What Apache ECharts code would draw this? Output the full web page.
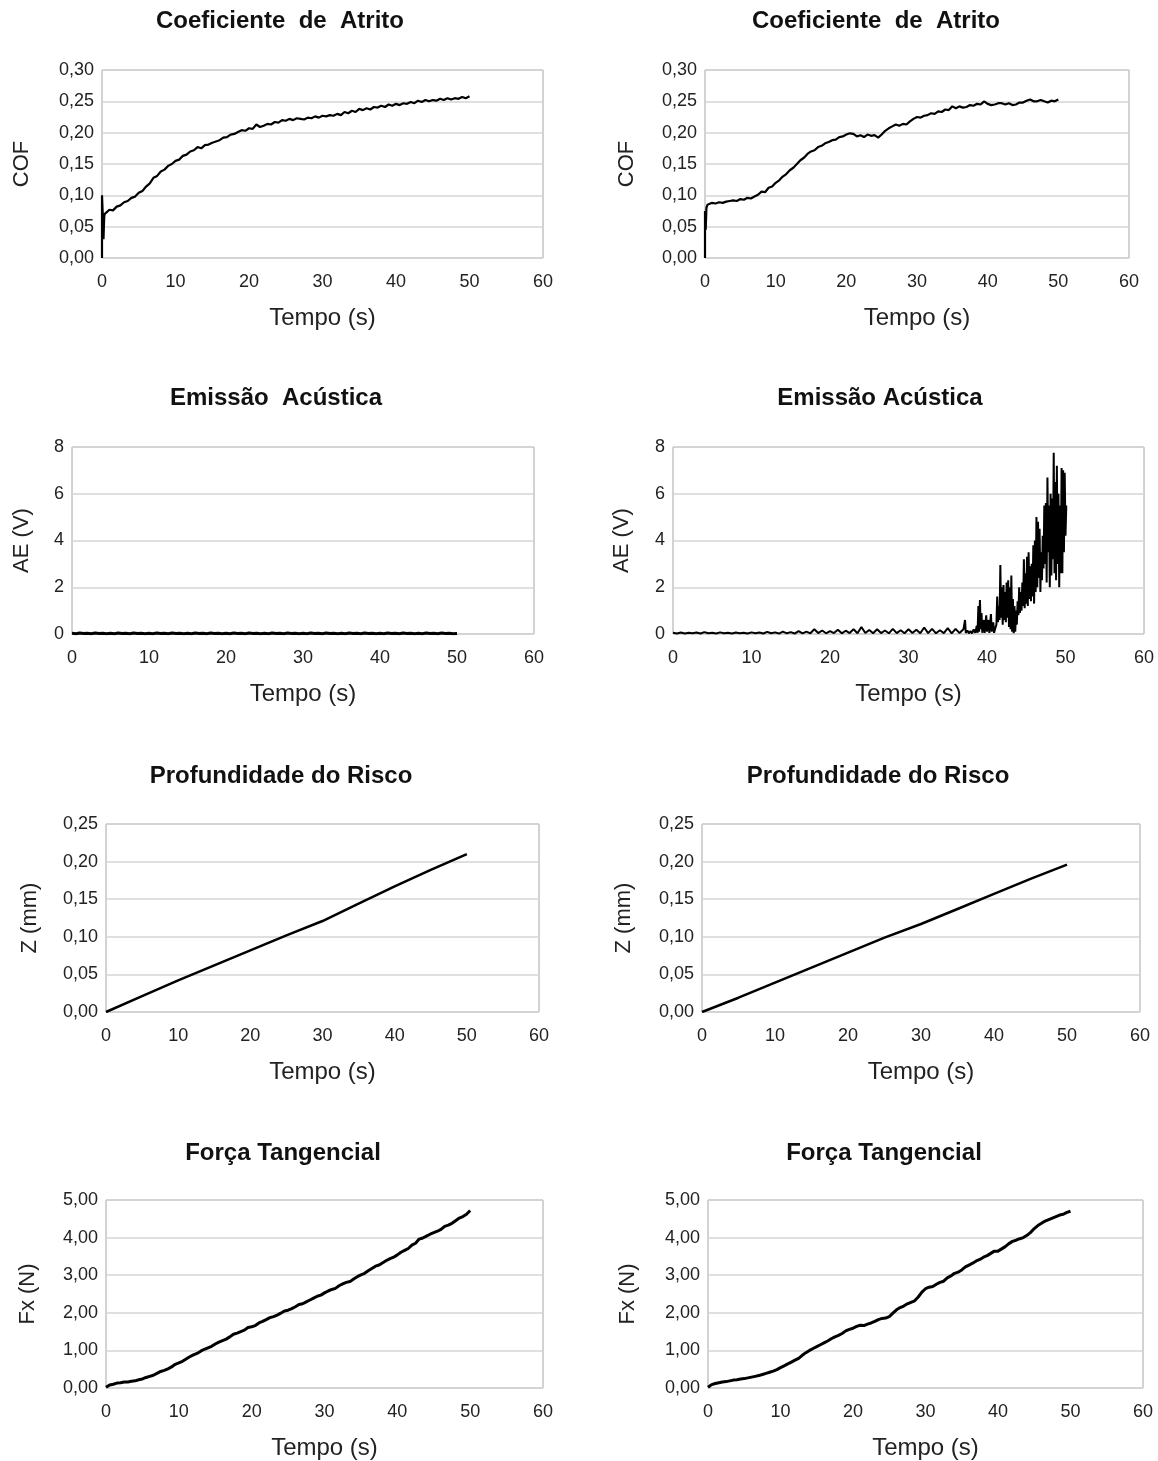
<!DOCTYPE html>
<html>
<head>
<meta charset="utf-8">
<script src="https://cdn.jsdelivr.net/npm/echarts@6/dist/echarts.min.js"></script>
<style>
  html, body { margin: 0; padding: 0; background: #fff; }
  #main { width: 1158px; height: 1461px; }
</style>
</head>
<body>
<div id="main"></div>
<script>
// tempo (s), passo de 0,5 s
var tempo = [
  0, 0.5, 1, 1.5, 2, 2.5, 3, 3.5, 4, 4.5,
  5, 5.5, 6, 6.5, 7, 7.5, 8, 8.5, 9, 9.5,
  10, 10.5, 11, 11.5, 12, 12.5, 13, 13.5, 14, 14.5,
  15, 15.5, 16, 16.5, 17, 17.5, 18, 18.5, 19, 19.5,
  20, 20.5, 21, 21.5, 22, 22.5, 23, 23.5, 24, 24.5,
  25, 25.5, 26, 26.5, 27, 27.5, 28, 28.5, 29, 29.5,
  30, 30.5, 31, 31.5, 32, 32.5, 33, 33.5, 34, 34.5,
  35, 35.5, 36, 36.5, 37, 37.5, 38, 38.5, 39, 39.5,
  40, 40.5, 41, 41.5, 42, 42.5, 43, 43.5, 44, 44.5,
  45, 45.5, 46, 46.5, 47, 47.5, 48, 48.5, 49, 49.5,
  50
];

// inicio do ensaio (pico inicial do COF)
var tempoInicio = [0, 0, 0.1, 0.2, 0.3, 0.35];
var cof1Inicio = [0, 0.10, 0.07, 0.03, 0.065, 0.07];
var cof2Inicio = [0, 0.075, 0.045, 0.08, 0.083, 0.085];

// COF de 0,5 a 50 s
var cof1 = [
  0.072, 0.077, 0.076, 0.082, 0.084, 0.089, 0.091, 0.096, 0.098, 0.104,
  0.107, 0.114, 0.119, 0.128, 0.131, 0.138, 0.141, 0.147, 0.150, 0.155,
  0.157, 0.163, 0.165, 0.170, 0.172, 0.177, 0.175, 0.180, 0.181, 0.184,
  0.186, 0.188, 0.192, 0.193, 0.197, 0.198, 0.201, 0.204, 0.203, 0.207,
  0.206, 0.213, 0.209, 0.211, 0.214, 0.213, 0.217, 0.216, 0.220, 0.219,
  0.222, 0.220, 0.223, 0.222, 0.221, 0.224, 0.223, 0.226, 0.224, 0.227,
  0.226, 0.228, 0.227, 0.230, 0.228, 0.233, 0.231, 0.235, 0.233, 0.238,
  0.236, 0.239, 0.237, 0.241, 0.240, 0.243, 0.241, 0.245, 0.243, 0.246,
  0.244, 0.247, 0.246, 0.249, 0.247, 0.251, 0.249, 0.252, 0.250, 0.252,
  0.251, 0.254, 0.252, 0.255, 0.253, 0.255, 0.254, 0.257, 0.255, 0.258
];
var cof2 = [
  0.087, 0.088, 0.087, 0.089, 0.088, 0.090, 0.091, 0.092, 0.091, 0.094,
  0.093, 0.096, 0.095, 0.098, 0.101, 0.106, 0.105, 0.112, 0.114, 0.120,
  0.124, 0.130, 0.134, 0.140, 0.144, 0.150, 0.156, 0.160, 0.166, 0.170,
  0.172, 0.177, 0.179, 0.183, 0.185, 0.188, 0.189, 0.193, 0.194, 0.197,
  0.199, 0.198, 0.194, 0.196, 0.193, 0.197, 0.195, 0.196, 0.192, 0.197,
  0.203, 0.207, 0.210, 0.213, 0.211, 0.214, 0.213, 0.218, 0.222, 0.225,
  0.224, 0.227, 0.228, 0.231, 0.230, 0.234, 0.233, 0.237, 0.236, 0.242,
  0.239, 0.242, 0.240, 0.241, 0.244, 0.243, 0.246, 0.245, 0.250, 0.246,
  0.244, 0.245, 0.247, 0.247, 0.245, 0.247, 0.244, 0.245, 0.248, 0.248,
  0.251, 0.253, 0.250, 0.250, 0.252, 0.250, 0.248, 0.251, 0.250, 0.253
];

// emissao acustica (V)
var ae1 = [
  0.03, 0.01, 0.04, 0.02, 0.03, 0.01, 0.04, 0.02, 0.03, 0.01,
  0.03, 0.01, 0.04, 0.02, 0.03, 0.01, 0.04, 0.02, 0.03, 0.01,
  0.03, 0.01, 0.04, 0.02, 0.03, 0.01, 0.04, 0.02, 0.03, 0.01,
  0.03, 0.01, 0.04, 0.02, 0.03, 0.01, 0.04, 0.02, 0.03, 0.01,
  0.03, 0.01, 0.04, 0.02, 0.03, 0.01, 0.04, 0.02, 0.03, 0.01,
  0.03, 0.01, 0.04, 0.02, 0.03, 0.01, 0.04, 0.02, 0.03, 0.01,
  0.03, 0.01, 0.04, 0.02, 0.03, 0.01, 0.04, 0.02, 0.03, 0.01,
  0.03, 0.01, 0.04, 0.02, 0.03, 0.01, 0.04, 0.02, 0.03, 0.01,
  0.03, 0.01, 0.04, 0.02, 0.03, 0.01, 0.04, 0.02, 0.03, 0.01,
  0.03, 0.01, 0.04, 0.02, 0.03, 0.01, 0.04, 0.02, 0.03, 0.01,
  0.02
];
// 0 a 37 s (passo 0,5 s)
var ae2Inicio = [
  0.05, 0.02, 0.06, 0.02, 0.05, 0.03, 0.06, 0.02, 0.08, 0.03,
  0.05, 0.02, 0.07, 0.03, 0.05, 0.02, 0.06, 0.03, 0.05, 0.02,
  0.07, 0.03, 0.06, 0.02, 0.09, 0.03, 0.07, 0.02, 0.10, 0.03,
  0.08, 0.02, 0.12, 0.03, 0.10, 0.03, 0.20, 0.04, 0.15, 0.03,
  0.12, 0.04, 0.18, 0.03, 0.14, 0.04, 0.20, 0.03, 0.30, 0.04,
  0.17, 0.03, 0.20, 0.04, 0.15, 0.03, 0.22, 0.04, 0.16, 0.03,
  0.20, 0.04, 0.18, 0.03, 0.28, 0.04, 0.22, 0.03, 0.16, 0.04,
  0.25, 0.03, 0.22, 0.04, 0.20
];
// 37,2 a 50,1 s
var ae2FimTempo = [
  37.2, 37.3, 37.5, 37.7, 37.9, 38.1, 38.3, 38.5, 38.7, 38.8,
  38.9, 39.0, 39.1, 39.2, 39.3, 39.4, 39.6, 39.7, 39.9, 40.0,
  40.2, 40.3, 40.5, 40.6, 40.8, 40.9, 41.1, 41.2,
  41.3, 41.4, 41.5, 41.6, 41.7, 41.8, 41.9, 42.0, 42.1, 42.2,
  42.3, 42.4, 42.5, 42.6, 42.7, 42.8, 42.9, 43.0, 43.1, 43.2,
  43.3, 43.4, 43.5, 43.6, 43.7, 43.8, 43.9, 44.0, 44.1, 44.2,
  44.3, 44.4, 44.5, 44.6, 44.7, 44.8, 44.9, 45.0, 45.1, 45.2,
  45.3, 45.4, 45.5, 45.6, 45.7, 45.8, 45.9, 46.0, 46.1, 46.2,
  46.3, 46.4, 46.5, 46.6, 46.7, 46.8, 46.9, 47.0, 47.1, 47.2,
  47.3, 47.4, 47.5, 47.6, 47.7, 47.8, 47.9, 48.0, 48.1, 48.2,
  48.3, 48.4, 48.5, 48.6, 48.7, 48.8, 48.9, 49.0, 49.1, 49.2,
  49.3, 49.4, 49.5, 49.6, 49.7, 49.8, 49.9, 50.0, 50.1
];
var ae2Fim = [
  0.6, 0.05, 0.15, 0.03, 0.12, 0.03, 0.2, 0.05, 0.35, 0.05,
  1.2, 0.1, 1.45, 0.2, 0.9, 0.05, 0.6, 0.05, 0.8, 0.1,
  0.6, 0.05, 0.85, 0.1, 0.5, 0.05, 0.3, 0.4,
  1.6, 0.5, 1.2, 0.6, 2.95, 0.7, 2.0, 0.4, 2.1, 0.6,
  1.8, 0.5, 2.2, 0.7, 2.3, 0.3, 2.0, 0.2, 2.5, 0.1,
  1.5, 0.03, 1.2, 0.1, 1.0, 0.4, 1.4, 0.8, 2.0, 0.9,
  1.8, 1.0, 2.2, 1.2, 3.2, 1.1, 2.6, 1.3, 3.3, 1.2,
  3.5, 1.5, 2.9, 1.4, 3.0, 1.6, 3.8, 1.3, 4.0, 1.8,
  5.0, 2.0, 4.8, 2.4, 4.5, 1.8, 3.5, 2.3, 4.2, 2.8,
  5.5, 3.0, 5.6, 2.2, 6.7, 3.5, 5.5, 2.0, 6.0, 2.5,
  5.8, 3.2, 7.75, 2.6, 6.5, 2.3, 7.2, 3.0, 6.0, 2.0,
  5.5, 2.6, 7.1, 2.6, 7.0, 3.5, 6.9, 4.2, 5.5
];

// profundidade do risco (mm)
var zTempo = [0, 5, 10, 15, 20, 25, 30, 35, 40, 45, 50];
var z1 = [0, 0.021, 0.042, 0.062, 0.082, 0.102, 0.121, 0.144, 0.167, 0.189, 0.210];
var z2 = [0, 0.019, 0.039, 0.059, 0.079, 0.099, 0.117, 0.137, 0.157, 0.177, 0.196];

// forca tangencial (N)
var fx1 = [
  0.02, 0.08, 0.10, 0.13, 0.14, 0.16, 0.16, 0.18, 0.19, 0.22,
  0.24, 0.28, 0.31, 0.34, 0.39, 0.44, 0.47, 0.51, 0.56, 0.63,
  0.67, 0.71, 0.77, 0.83, 0.88, 0.92, 0.98, 1.03, 1.07, 1.11,
  1.17, 1.22, 1.26, 1.30, 1.36, 1.43, 1.46, 1.50, 1.54, 1.61,
  1.63, 1.66, 1.73, 1.77, 1.82, 1.87, 1.90, 1.94, 1.99, 2.05,
  2.07, 2.11, 2.16, 2.22, 2.24, 2.29, 2.34, 2.39, 2.44, 2.47,
  2.53, 2.58, 2.62, 2.65, 2.72, 2.77, 2.81, 2.83, 2.90, 2.96,
  3.01, 3.05, 3.12, 3.18, 3.24, 3.27, 3.33, 3.39, 3.44, 3.48,
  3.54, 3.61, 3.66, 3.71, 3.80, 3.85, 3.96, 3.99, 4.04, 4.09,
  4.13, 4.17, 4.22, 4.30, 4.33, 4.38, 4.45, 4.52, 4.56, 4.62,
  4.72
];
var fx2 = [
  0.02, 0.09, 0.12, 0.14, 0.16, 0.17, 0.19, 0.21, 0.22, 0.24,
  0.25, 0.27, 0.29, 0.31, 0.33, 0.36, 0.39, 0.42, 0.45, 0.49,
  0.54, 0.59, 0.64, 0.69, 0.74, 0.79, 0.87, 0.94, 1.00, 1.05,
  1.10, 1.15, 1.20, 1.25, 1.31, 1.36, 1.40, 1.45, 1.52, 1.56,
  1.59, 1.64, 1.67, 1.66, 1.70, 1.73, 1.77, 1.82, 1.85, 1.86,
  1.90, 1.99, 2.08, 2.14, 2.18, 2.24, 2.28, 2.32, 2.42, 2.55,
  2.64, 2.68, 2.70, 2.76, 2.81, 2.84, 2.93, 2.98, 3.05, 3.08,
  3.14, 3.22, 3.27, 3.32, 3.38, 3.42, 3.48, 3.52, 3.58, 3.64,
  3.64, 3.70, 3.76, 3.84, 3.90, 3.93, 3.97, 4.00, 4.06, 4.14,
  4.24, 4.32, 4.38, 4.44, 4.48, 4.52, 4.56, 4.60, 4.62, 4.67,
  4.70
];

function pares(xs, ys) {
  return xs.map(function (x, i) { return [x, ys[i]]; });
}

var fonte = "'Liberation Sans', Arial, sans-serif";
var virgula = function (casas) {
  return function (v) { return v.toFixed(casas).replace('.', ','); };
};

var graficos = [
  { titulo: 'Coeficiente  de  Atrito', eixoY: 'COF', tx: 280, ty: 9,
    grid: { left: 102, top: 70, width: 441, height: 188 }, nameGapY: 69,
    max: 0.30, intervalo: 0.05, casas: 2, largura: 2.2,
    dados: pares(tempoInicio.concat(tempo.slice(1)), cof1Inicio.concat(cof1)) },
  { titulo: 'Coeficiente  de  Atrito', eixoY: 'COF', tx: 876, ty: 9,
    grid: { left: 705, top: 70, width: 424, height: 188 }, nameGapY: 67,
    max: 0.30, intervalo: 0.05, casas: 2, largura: 2.2,
    dados: pares(tempoInicio.concat(tempo.slice(1)), cof2Inicio.concat(cof2)) },
  { titulo: 'Emissão  Acústica', eixoY: 'AE (V)', tx: 276, ty: 386,
    grid: { left: 72, top: 447, width: 462, height: 187 }, nameGapY: 39,
    max: 8, intervalo: 2, casas: 0, largura: 3,
    dados: pares(tempo, ae1) },
  { titulo: 'Emissão Acústica', eixoY: 'AE (V)', tx: 880, ty: 386,
    grid: { left: 673, top: 447, width: 471, height: 187 }, nameGapY: 40,
    max: 8, intervalo: 2, casas: 0, largura: 2,
    dados: pares(tempo.slice(0, 75).concat(ae2FimTempo), ae2Inicio.concat(ae2Fim)) },
  { titulo: 'Profundidade do Risco', eixoY: 'Z (mm)', tx: 281, ty: 764,
    grid: { left: 106, top: 824, width: 433, height: 188 }, nameGapY: 65,
    max: 0.25, intervalo: 0.05, casas: 2, largura: 2.5,
    dados: pares(zTempo, z1) },
  { titulo: 'Profundidade do Risco', eixoY: 'Z (mm)', tx: 878, ty: 764,
    grid: { left: 702, top: 824, width: 438, height: 188 }, nameGapY: 67,
    max: 0.25, intervalo: 0.05, casas: 2, largura: 2.5,
    dados: pares(zTempo, z2) },
  { titulo: 'Força Tangencial', eixoY: 'Fx (N)', tx: 283, ty: 1141,
    grid: { left: 106, top: 1200, width: 437, height: 189 }, nameGapY: 67,
    max: 5, intervalo: 1, casas: 2, largura: 3,
    dados: pares(tempo, fx1) },
  { titulo: 'Força Tangencial', eixoY: 'Fx (N)', tx: 884, ty: 1141,
    grid: { left: 708, top: 1200, width: 435, height: 189 }, nameGapY: 69,
    max: 5, intervalo: 1, casas: 2, largura: 3,
    dados: pares(tempo, fx2) }
];

var option = {
  animation: false,
  backgroundColor: '#fff',
  title: [], grid: [], xAxis: [], yAxis: [], series: []
};

graficos.forEach(function (g, i) {
  option.title.push({
    text: g.titulo, left: g.tx, top: g.ty, textAlign: 'center', padding: 0,
    textStyle: { fontFamily: fonte, fontSize: 24, fontWeight: 'bold', color: '#111' }
  });
  option.grid.push(Object.assign({
    show: true, borderColor: '#a6a6a6', borderWidth: 1, backgroundColor: '#fff'
  }, g.grid));
  option.xAxis.push({
    type: 'value', gridIndex: i, min: 0, max: 60, interval: 10,
    name: 'Tempo (s)', nameLocation: 'middle', nameGap: 48,
    nameTextStyle: { fontFamily: fonte, fontSize: 24, color: '#222' },
    axisLine: { show: false }, axisTick: { show: false }, splitLine: { show: false },
    axisLabel: { fontFamily: fonte, fontSize: 18, color: '#222', margin: 15 }
  });
  option.yAxis.push({
    type: 'value', gridIndex: i, min: 0, max: g.max, interval: g.intervalo,
    name: g.eixoY, nameLocation: 'middle', nameGap: g.nameGapY, nameRotate: 90,
    nameTextStyle: { fontFamily: fonte, fontSize: 22, color: '#222' },
    axisLine: { show: false }, axisTick: { show: false },
    splitLine: { lineStyle: { color: '#d4d4d4', width: 1.5 } },
    axisLabel: { fontFamily: fonte, fontSize: 18, color: '#222', margin: 8,
                 formatter: virgula(g.casas) }
  });
  option.series.push({
    type: 'line', xAxisIndex: i, yAxisIndex: i, showSymbol: false,
    lineStyle: { color: '#000', width: g.largura }, data: g.dados
  });
});

var chart = echarts.init(document.getElementById('main'));
chart.setOption(option);
</script>
</body>
</html>
